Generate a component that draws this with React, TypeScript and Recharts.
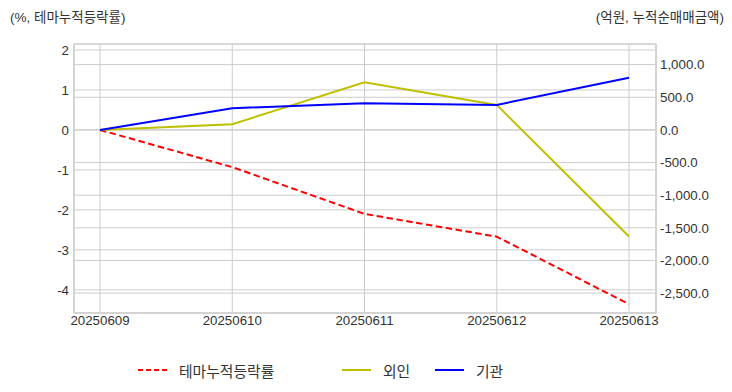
import React from 'react';
import { LineChart, Line, XAxis, YAxis, CartesianGrid, Legend } from 'recharts';

const categories = ['20250609', '20250610', '20250611', '20250612', '20250613'];
const themeReturn = [0, -0.93, -2.1, -2.67, -4.36];
const foreignNet = [0, 87, 730, 383, -1633];
const institutionNet = [0, 332, 409, 383, 800];
const leftTicks = [2, 1, 0, -1, -2, -3, -4];
const rightTicks = [1000, 500, 0, -500, -1000, -1500, -2000, -2500];
const leftTitle = '(%, 테마누적등락률)';
const rightTitle = '(억원, 누적순매매금액)';
const seriesNames = ['테마누적등락률', '외인', '기관'];

const data = categories.map((d, i) => ({
  date: d,
  theme: themeReturn[i],
  foreign: foreignNet[i],
  inst: institutionNet[i],
}));

const FONT = '"Liberation Sans", "Noto Sans CJK KR", sans-serif';
const tickStyle = { fill: '#333', fontSize: 13.3, fontFamily: FONT };
const borderColor = '#d3d3d3';
const gridColor = '#cccccc';

const fmtRight = (v: number) =>
  v.toLocaleString('en-US', { minimumFractionDigits: 1, maximumFractionDigits: 1 });

const legendItems = [
  { name: seriesNames[0], color: '#ff0000', dash: '5 3', left: 138 },
  { name: seriesNames[1], color: '#bfbf00', dash: undefined, left: 342 },
  { name: seriesNames[2], color: '#0000ff', dash: undefined, left: 435 },
];

const LegendContent = () => (
  <div style={{ position: 'relative', width: 732, height: 24 }}>
    {legendItems.map((it) => (
      <div
        key={it.name}
        style={{
          position: 'absolute',
          left: it.left,
          top: 0,
          height: 24,
          display: 'flex',
          alignItems: 'center',
          fontFamily: FONT,
          fontSize: 14.8,
          color: '#333',
          whiteSpace: 'nowrap',
        }}
      >
        <svg width={29} height={10} style={{ marginRight: 12 }}>
          <line x1={0} y1={5} x2={29} y2={5} stroke={it.color} strokeWidth={2} strokeDasharray={it.dash} />
        </svg>
        <span>{it.name}</span>
      </div>
    ))}
  </div>
);

export default function App() {
  return (
    <div style={{ position: 'absolute', left: 0, top: 0, width: 732, height: 392, background: '#fff' }}>
      <div style={{ position: 'absolute', left: 10, top: 6, fontFamily: FONT, fontSize: 13.5, color: '#333', whiteSpace: 'nowrap' }}>
        {leftTitle}
      </div>
      <div style={{ position: 'absolute', right: 8, top: 6, fontFamily: FONT, fontSize: 13.5, color: '#333', whiteSpace: 'nowrap' }}>
        {rightTitle}
      </div>
      <LineChart width={732} height={392} data={data} margin={{ top: 44, right: 0, left: 0, bottom: 10 }}>
        <CartesianGrid yAxisId="left" stroke={gridColor} strokeWidth={1} />
        <CartesianGrid yAxisId="right" stroke={gridColor} strokeWidth={1} vertical={false} />
        <XAxis
          dataKey="date"
          interval={0}
          padding={{ left: 26, right: 27 }}
          tickLine={false}
          tickSize={3}
          tickMargin={0}
          height={45}
          tick={tickStyle}
          axisLine={{ stroke: borderColor, strokeWidth: 2 }}
        />
        <XAxis
          xAxisId="top"
          dataKey="date"
          orientation="top"
          height={0}
          tick={false}
          tickLine={false}
          padding={{ left: 26, right: 27 }}
          axisLine={{ stroke: borderColor, strokeWidth: 2 }}
        />
        <YAxis
          yAxisId="left"
          orientation="left"
          width={74}
          domain={[-4.58, 2.15]}
          ticks={leftTicks}
          allowDataOverflow
          tickLine={false}
          tickSize={5}
          tickMargin={0}
          tick={tickStyle}
          axisLine={{ stroke: borderColor, strokeWidth: 2 }}
        />
        <YAxis
          yAxisId="right"
          orientation="right"
          width={76}
          domain={[-2805, 1316]}
          ticks={rightTicks}
          allowDataOverflow
          tickFormatter={fmtRight}
          tickLine={false}
          tickSize={4}
          tickMargin={0}
          tick={tickStyle}
          axisLine={{ stroke: borderColor, strokeWidth: 2 }}
        />
        <Legend verticalAlign="bottom" content={<LegendContent />} wrapperStyle={{ height: 24, left: 0, width: 732 }} />
        <Line
          yAxisId="left"
          dataKey="theme"
          name={seriesNames[0]}
          type="linear"
          stroke="#ff0000"
          strokeWidth={2}
          strokeDasharray="6.5 3.5"
          dot={false}
          isAnimationActive={false}
        />
        <Line
          yAxisId="right"
          dataKey="foreign"
          name={seriesNames[1]}
          type="linear"
          stroke="#bfbf00"
          strokeWidth={2}
          dot={false}
          isAnimationActive={false}
        />
        <Line
          yAxisId="right"
          dataKey="inst"
          name={seriesNames[2]}
          type="linear"
          stroke="#0000ff"
          strokeWidth={2}
          dot={false}
          isAnimationActive={false}
        />
      </LineChart>
    </div>
  );
}
